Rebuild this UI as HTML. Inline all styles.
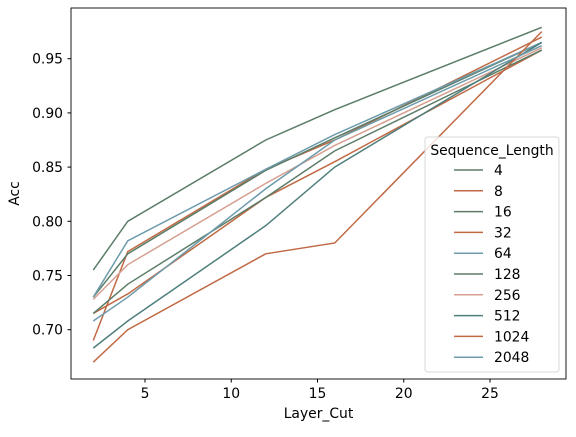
<!DOCTYPE html>
<html><head><meta charset="utf-8"><style>
body{margin:0;background:#fff}
svg text{font-family:"DejaVu Sans","Liberation Sans",sans-serif;font-size:13.9px;fill:#000}
</style></head><body>
<svg id="chart" width="576" height="432">
<rect x="71" y="8" width="495" height="371" fill="none" stroke="#000" stroke-width="0.9"/>
<g id="marks"></g><g id="axes"></g><g id="legend"></g>
</svg>
<script>
const layerCuts=[2,4,12,16,28];
const seqLabels=["4","8","16","32","64","128","256","512","1024","2048"];
const s4=[0.755,0.800,0.875,0.903,0.979];
const s8=[0.690,0.772,0.848,0.875,0.970];
const s16=[0.730,0.770,0.847,0.877,0.965];
const s32=[0.715,0.733,0.822,0.855,0.958];
const s64=[0.730,0.782,0.848,0.880,0.965];
const s128=[0.715,0.742,0.822,0.865,0.958];
const s256=[0.728,0.760,0.835,0.870,0.960];
const s512=[0.683,0.708,0.796,0.850,0.965];
const s1024=[0.670,0.700,0.770,0.780,0.975];
const s2048=[0.708,0.730,0.830,0.875,0.962];
const series=[s4,s8,s16,s32,s64,s128,s256,s512,s1024,s2048];
const xTicks=[5,10,15,20,25];
const yTicks=[0.70,0.75,0.80,0.85,0.90,0.95];
const colors=["#5b7d68","#c06a45","#5b7d68","#c06a45","#6d9bab","#5b7d68","#d6a090","#4f7f7c","#c06a45","#6d9bab"];
const NS="http://www.w3.org/2000/svg";
const xS=v=>93.25+(v-2)*17.25;
const yS=v=>329.7-(v-0.70)*1084;
const marks=document.getElementById('marks'),axes=document.getElementById('axes'),leg=document.getElementById('legend');
function mk(t,a,p){const e=document.createElementNS(NS,t);for(const k in a)e.setAttribute(k,a[k]);p.appendChild(e);return e;}
series.forEach((s,i)=>{
 const pl=mk('polyline',{points:s.map((v,j)=>xS(layerCuts[j])+','+yS(v)).join(' '),fill:'none',stroke:colors[i],'stroke-width':1.5},marks);
 
 
});
xTicks.forEach(v=>{
 const x=xS(v);
 mk('line',{x1:x,x2:x,y1:379,y2:382.5,stroke:'#000'},axes);
 const t=mk('text',{x:x,y:398,'text-anchor':'middle'},axes);t.textContent=v;
 
 
});
yTicks.forEach(v=>{
 const y=yS(v);
 mk('line',{x1:67.5,x2:71,y1:y,y2:y,stroke:'#000'},axes);
 const t=mk('text',{x:63,y:y+5,'text-anchor':'end'},axes);t.textContent=v.toFixed(2);
 
 
});
const xt=mk('text',{x:318.5,y:418,'text-anchor':'middle'},axes);xt.textContent='Layer_Cut';


const yt=mk('text',{x:19,y:193.5,'text-anchor':'middle',transform:'rotate(-90 19 193.5)'},axes);yt.textContent='Acc';


const box=mk('rect',{x:425,y:137,width:134,height:235,rx:3,fill:'#fff','fill-opacity':0.8,stroke:'#d8d8d8'},leg);


const lt=mk('text',{x:492,y:155,'text-anchor':'middle'},leg);lt.textContent='Sequence_Length';


seqLabels.forEach((l,i)=>{
 const y=170+i*20.8;
 const g=mk('g',{},leg);
 
 
 mk('line',{x1:454,x2:483,y1:y,y2:y,stroke:colors[i],'stroke-width':1.5},g);
 const t=mk('text',{x:494,y:y+5},g);t.textContent=l;
});
</script>
</body></html>
